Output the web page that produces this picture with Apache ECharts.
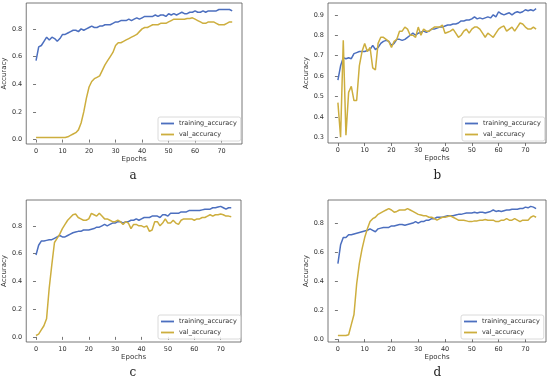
<!DOCTYPE html>
<html>
<head>
<meta charset="utf-8">
<script src="https://cdn.jsdelivr.net/npm/echarts@6/dist/echarts.min.js"></script>
<style>
html,body{margin:0;padding:0;background:#fff;}
#c{width:550px;height:381px;}
</style>
</head>
<body>
<div id="c"></div>
<script>
const epochs = Array.from({length: 75}, (_, i) => i);
const xTicks = [0, 10, 20, 30, 40, 50, 60, 70];
const yTicksFull = [0.0, 0.2, 0.4, 0.6, 0.8];
const yTicksB = [0.3, 0.4, 0.5, 0.6, 0.7, 0.8, 0.9];
const seriesNames = ['training_accuracy', 'val_accuracy'];
const panelLabels = ['a', 'b', 'c', 'd'];

const trainA = [0.57,0.67,0.68,0.71,0.74,0.72,0.74,0.73,0.71,0.73,0.76,0.76,0.77,0.78,0.79,0.79,0.78,0.80,0.79,0.80,
0.81,0.82,0.81,0.81,0.82,0.82,0.83,0.83,0.83,0.84,0.85,0.85,0.86,0.86,0.86,0.87,0.86,0.87,0.88,0.87,
0.88,0.89,0.89,0.89,0.89,0.90,0.89,0.90,0.90,0.89,0.91,0.90,0.91,0.90,0.91,0.92,0.91,0.91,0.92,0.92,
0.93,0.92,0.92,0.93,0.92,0.93,0.93,0.93,0.93,0.94,0.94,0.94,0.94,0.94,0.93];
const valA = [0.015,0.015,0.015,0.015,0.015,0.015,0.015,0.015,0.015,0.015,0.015,0.015,0.02,0.03,0.04,0.05,0.07,0.12,0.20,0.30,
0.38,0.42,0.44,0.45,0.46,0.50,0.54,0.57,0.60,0.63,0.68,0.70,0.70,0.71,0.72,0.73,0.74,0.75,0.76,0.78,
0.80,0.81,0.81,0.82,0.83,0.83,0.83,0.84,0.84,0.84,0.85,0.86,0.87,0.87,0.87,0.87,0.87,0.875,0.875,0.88,
0.87,0.86,0.85,0.84,0.84,0.85,0.85,0.85,0.84,0.83,0.83,0.83,0.84,0.85,0.85];

const trainB = [0.58,0.65,0.69,0.685,0.69,0.685,0.71,0.715,0.72,0.72,0.72,0.725,0.73,0.75,0.73,0.74,0.76,0.77,0.775,0.77,
0.75,0.76,0.78,0.78,0.775,0.78,0.79,0.80,0.81,0.80,0.81,0.815,0.82,0.815,0.82,0.83,0.83,0.835,0.84,0.84,
0.845,0.85,0.85,0.855,0.855,0.86,0.87,0.87,0.875,0.875,0.88,0.89,0.88,0.885,0.88,0.885,0.89,0.885,0.90,0.89,
0.915,0.905,0.90,0.905,0.91,0.90,0.91,0.915,0.91,0.915,0.925,0.92,0.925,0.92,0.93];
const valB = [0.47,0.30,0.775,0.31,0.52,0.55,0.48,0.48,0.65,0.72,0.76,0.72,0.74,0.64,0.63,0.76,0.79,0.79,0.78,0.77,
0.74,0.77,0.78,0.82,0.82,0.84,0.83,0.80,0.80,0.79,0.84,0.80,0.83,0.82,0.82,0.83,0.84,0.84,0.84,0.85,
0.81,0.815,0.82,0.83,0.81,0.79,0.80,0.82,0.83,0.81,0.83,0.84,0.84,0.83,0.81,0.79,0.81,0.80,0.79,0.81,
0.83,0.84,0.845,0.82,0.83,0.84,0.82,0.84,0.86,0.855,0.84,0.83,0.83,0.84,0.83];

const trainC = [0.59,0.66,0.69,0.69,0.695,0.70,0.70,0.71,0.72,0.73,0.72,0.72,0.73,0.74,0.75,0.755,0.76,0.76,0.77,0.77,
0.77,0.775,0.78,0.79,0.79,0.80,0.81,0.80,0.81,0.82,0.82,0.83,0.83,0.82,0.83,0.83,0.84,0.84,0.85,0.84,
0.85,0.86,0.86,0.86,0.87,0.87,0.87,0.86,0.88,0.88,0.87,0.89,0.89,0.89,0.89,0.90,0.90,0.90,0.91,0.91,
0.91,0.91,0.91,0.915,0.92,0.92,0.92,0.93,0.93,0.935,0.94,0.93,0.92,0.93,0.93];
const valC = [0.01,0.02,0.05,0.08,0.13,0.35,0.52,0.68,0.71,0.74,0.78,0.81,0.84,0.86,0.88,0.885,0.86,0.85,0.84,0.84,
0.85,0.89,0.88,0.87,0.89,0.87,0.85,0.85,0.84,0.83,0.83,0.84,0.83,0.81,0.83,0.82,0.78,0.81,0.81,0.80,
0.80,0.79,0.80,0.76,0.77,0.83,0.83,0.80,0.82,0.85,0.82,0.82,0.84,0.82,0.81,0.84,0.85,0.85,0.85,0.85,
0.84,0.85,0.85,0.86,0.86,0.87,0.88,0.87,0.88,0.88,0.885,0.88,0.87,0.87,0.865];

const trainD = [0.52,0.65,0.70,0.70,0.72,0.72,0.725,0.73,0.735,0.74,0.745,0.75,0.76,0.75,0.74,0.76,0.765,0.77,0.77,0.77,
0.78,0.78,0.785,0.79,0.79,0.785,0.79,0.795,0.80,0.81,0.80,0.81,0.81,0.82,0.82,0.83,0.83,0.84,0.84,0.84,
0.845,0.85,0.85,0.85,0.855,0.86,0.86,0.865,0.87,0.87,0.87,0.875,0.87,0.875,0.875,0.87,0.875,0.88,0.89,0.88,
0.885,0.88,0.885,0.89,0.89,0.895,0.895,0.895,0.90,0.90,0.91,0.905,0.915,0.91,0.90];
const valD = [0.025,0.025,0.025,0.025,0.03,0.10,0.17,0.38,0.52,0.62,0.70,0.76,0.81,0.83,0.84,0.86,0.87,0.88,0.89,0.90,
0.89,0.875,0.88,0.89,0.89,0.89,0.90,0.89,0.88,0.87,0.86,0.855,0.85,0.85,0.84,0.84,0.83,0.82,0.83,0.84,
0.84,0.845,0.85,0.84,0.83,0.82,0.82,0.82,0.815,0.81,0.81,0.815,0.815,0.82,0.82,0.825,0.82,0.82,0.82,0.81,
0.81,0.82,0.82,0.83,0.82,0.82,0.83,0.82,0.81,0.82,0.82,0.82,0.84,0.85,0.84];

const panels = [
  {train: trainA, val: valA, yTicks: yTicksFull, ymin: -0.032, ymax: 0.987, grid: {left: 25, top: 3, width: 217, height: 141}, nameGapY: 15, legend: {left: 158, top: 117}, cap: {x: 133.5, y: 177}},
  {train: trainB, val: valB, yTicks: yTicksB, ymin: 0.272, ymax: 0.958, grid: {left: 328, top: 3, width: 218, height: 140}, nameGapY: 16, legend: {left: 462, top: 117}, cap: {x: 437.5, y: 177}},
  {train: trainC, val: valC, yTicks: yTicksFull, ymin: -0.037, ymax: 0.986, grid: {left: 25, top: 200, width: 216, height: 142}, nameGapY: 15, legend: {left: 158, top: 315}, cap: {x: 133.5, y: 374}},
  {train: trainD, val: valD, yTicks: yTicksFull, ymin: -0.02, ymax: 0.959, grid: {left: 328, top: 200, width: 218, height: 142}, nameGapY: 16, legend: {left: 461, top: 315}, cap: {x: 437.5, y: 374}}
];

const blue = '#4c6fbf';
const gold = '#cdae3e';
const fontFam = '"DejaVu Sans", sans-serif';
const tickFont = 6.5;

const option = {
  animation: false,
  backgroundColor: '#fff',
  grid: [], xAxis: [], yAxis: [], series: [], legend: [], graphic: []
};

panels.forEach((p, i) => {
  option.grid.push(Object.assign({show: true, borderColor: '#555', borderWidth: 0.8, backgroundColor: 'transparent'}, p.grid));
  option.xAxis.push({
    type: 'value', gridIndex: i, min: -3.7, max: 77.7,
    name: 'Epochs', nameLocation: 'middle', nameGap: 12,
    nameTextStyle: {fontSize: 7, color: '#333', fontFamily: fontFam},
    axisLine: {show: false},
    axisTick: {show: true, length: 3, lineStyle: {color: '#555', width: 0.8}, customValues: xTicks},
    axisLabel: {fontSize: tickFont, color: '#333', fontFamily: fontFam, margin: 4, customValues: xTicks, formatter: v => String(v)},
    splitLine: {show: false}
  });
  option.yAxis.push({
    type: 'value', gridIndex: i, min: p.ymin, max: p.ymax,
    name: 'Accuracy', nameLocation: 'middle', nameGap: p.nameGapY, nameRotate: 90,
    nameTextStyle: {fontSize: 7, color: '#333', fontFamily: fontFam},
    axisLine: {show: false},
    axisTick: {show: true, length: 3, lineStyle: {color: '#555', width: 0.8}, customValues: p.yTicks},
    axisLabel: {fontSize: tickFont, color: '#333', fontFamily: fontFam, margin: 4, customValues: p.yTicks, formatter: v => v.toFixed(1)},
    splitLine: {show: false}
  });
  option.series.push({
    name: seriesNames[0], type: 'line', xAxisIndex: i, yAxisIndex: i, symbol: 'none',
    lineStyle: {color: blue, width: 1.5}, itemStyle: {color: blue},
    data: epochs.map((e, k) => [e, p.train[k]])
  });
  option.series.push({
    name: seriesNames[1], type: 'line', xAxisIndex: i, yAxisIndex: i, symbol: 'none',
    lineStyle: {color: gold, width: 1.5}, itemStyle: {color: gold},
    data: epochs.map((e, k) => [e, p.val[k]])
  });
  option.legend.push({
    left: p.legend.left, top: p.legend.top, orient: 'vertical',
    data: seriesNames.map(n => ({name: n, icon: 'rect'})),
    itemWidth: 13, itemHeight: 1.8, itemGap: 4,
    padding: [3, 4, 3, 3],
    borderColor: '#d0d0d0', borderWidth: 0.8, borderRadius: 2,
    backgroundColor: 'rgba(255,255,255,0.85)',
    selectedMode: false,
    textStyle: {fontSize: 6.5, color: '#333', fontFamily: fontFam, lineHeight: 7}
  });
  option.graphic.push({
    type: 'text', left: p.cap.x - 4, top: p.cap.y - 7,
    style: {text: panelLabels[i], font: '12px "DejaVu Serif", "Liberation Serif", serif', fill: '#222'}
  });
});

const chart = echarts.init(document.getElementById('c'), null, {renderer: 'canvas'});
chart.setOption(option);
</script>
</body>
</html>
